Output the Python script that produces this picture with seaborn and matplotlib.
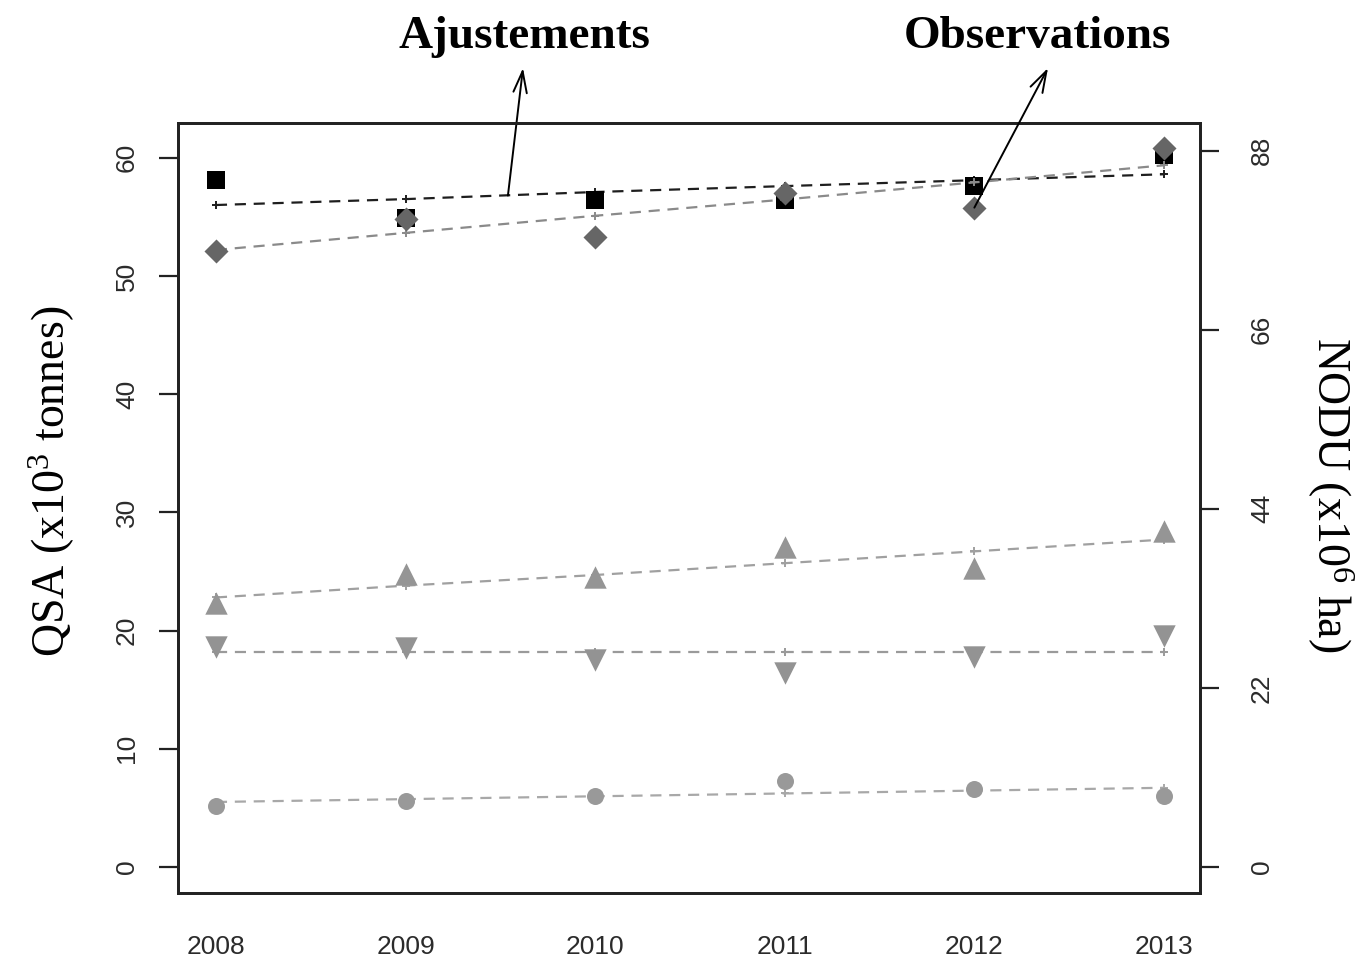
import matplotlib
matplotlib.use("Agg")
import matplotlib.pyplot as plt
import seaborn as sns
import pandas as pd

# Years of the survey
years = [2008, 2009, 2010, 2011, 2012, 2013]

# QSA series (x10^3 tonnes): observations and fitted values
qsa_total_obs = [58.1, 54.9, 56.4, 56.4, 57.6, 60.2]
qsa_total_fit = [56.0, 56.5, 57.1, 57.6, 58.1, 58.6]
qsa_up_obs = [22.3, 24.8, 24.5, 27.1, 25.3, 28.4]
qsa_up_fit = [22.8, 23.8, 24.7, 25.7, 26.7, 27.7]
qsa_down_obs = [18.6, 18.5, 17.5, 16.4, 17.8, 19.5]
qsa_down_fit = [18.2, 18.2, 18.2, 18.2, 18.2, 18.2]
qsa_small_obs = [5.2, 5.6, 6.0, 7.3, 6.6, 6.0]
qsa_small_fit = [5.5, 5.74, 5.98, 6.22, 6.46, 6.7]

# NODU series (x10^6 ha): observations and fitted values
nodu_obs = [75.7, 79.6, 77.4, 82.8, 81.0, 88.3]
nodu_fit = [75.8, 77.9, 80.0, 82.0, 84.1, 86.2]

left_ticks = [0, 10, 20, 30, 40, 50, 60]
right_ticks = [0, 22, 44, 66, 88]

sns.set_style("white")
plt.rcParams["font.family"] = ["Liberation Sans", "DejaVu Sans"]
plt.rcParams["mathtext.fontset"] = "custom"
plt.rcParams["mathtext.rm"] = "Liberation Serif"
plt.rcParams["mathtext.it"] = "Liberation Serif"

fig = plt.figure(figsize=(13.63, 9.63), dpi=100)
ax = fig.add_axes([0.1306, 0.0727, 0.7498, 0.7996])
ax2 = ax.twinx()

dash = (5, 3.5)


def fit_line(axis, values, color):
    df = pd.DataFrame({"year": years, "v": values})
    sns.lineplot(data=df, x="year", y="v", ax=axis, color=color,
                 marker="+", markersize=5.5, markeredgewidth=1.4,
                 markeredgecolor=color, linewidth=1.6, zorder=2)
    axis.lines[-1].set_dashes(dash)


def obs_points(axis, values, color, marker, size):
    df = pd.DataFrame({"year": years, "v": values})
    sns.scatterplot(data=df, x="year", y="v", ax=axis, color=color,
                    marker=marker, s=size, linewidth=0, zorder=3)


# Fitted trends
fit_line(ax, qsa_small_fit, "#a8a8a8")
fit_line(ax, qsa_down_fit, "#9a9a9a")
fit_line(ax, qsa_up_fit, "#a0a0a0")
fit_line(ax2, nodu_fit, "#8a8a8a")
fit_line(ax, qsa_total_fit, "#1e1e1e")

# Observations
obs_points(ax, qsa_small_obs, "#999999", "o", 150)
obs_points(ax, qsa_down_obs, "#939393", "v", 260)
obs_points(ax, qsa_up_obs, "#959595", "^", 260)
obs_points(ax, qsa_total_obs, "#000000", "s", 150)
obs_points(ax2, nodu_obs, "#666666", "D", 150)

ax.set_xlim(2007.8, 2013.19)
ax.set_ylim(-2.2, 62.94)
ax2.set_ylim(-3.19, 91.4)

ax.set_xticks(years)
ax.set_xticklabels([str(y) for y in years])
ax.set_yticks(left_ticks)
ax.set_yticklabels([str(t) for t in left_ticks], rotation=90, va="center")
ax2.set_yticks(right_ticks)
ax2.set_yticklabels([str(t) for t in right_ticks], rotation=90, va="center")

tick_color = "#2b2b2b"
ax.tick_params(axis="x", direction="out", length=14, width=1.6, pad=16,
               labelsize=19, colors="#222222", labelcolor=tick_color)
ax.tick_params(axis="y", direction="out", length=14, width=1.6, pad=14,
               labelsize=19, left=True, colors="#222222", labelcolor=tick_color)
ax2.tick_params(axis="y", direction="out", length=14, width=1.6, pad=22,
                labelsize=19, right=True, colors="#222222", labelcolor=tick_color)

for a in (ax, ax2):
    for sp in a.spines.values():
        sp.set_visible(True)
        sp.set_color("#222222")
        sp.set_linewidth(2.0)

ax.set_xlabel("")
ax.set_ylabel("")
ax2.set_ylabel("")

serif = ["Liberation Serif", "DejaVu Serif"]
fig.text(52 / 1363, 1 - 481 / 963, r"QSA (x10$^{3}$ tonnes)", rotation=90,
         ha="center", va="center", fontsize=33, family=serif, color="black")
fig.text(1330 / 1363, 1 - 495 / 963, r"NODU (x10$^{6}$ ha)", rotation=-90,
         ha="center", va="center", fontsize=33, family=serif, color="black")

fig.text(524 / 1363, 1 - 37 / 963, "Ajustements", ha="center", va="center",
         fontsize=34, fontweight="bold", family=serif, color="black")
fig.text(1037 / 1363, 1 - 37 / 963, "Observations", ha="center", va="center",
         fontsize=34, fontweight="bold", family=serif, color="black")

arrow = dict(arrowstyle="->,head_length=0.7,head_width=0.22", lw=1.4,
             color="black", mutation_scale=22, shrinkA=0, shrinkB=0)
ax.annotate("", xy=(523 / 1363, 1 - 68 / 963), xycoords="figure fraction",
            xytext=(2009.54, 56.8), textcoords="data", arrowprops=arrow,
            annotation_clip=False)
ax2.annotate("", xy=(1048 / 1363, 1 - 68 / 963), xycoords="figure fraction",
             xytext=(2012, 81.0), textcoords="data", arrowprops=arrow,
             annotation_clip=False)

fig.savefig("out.png", dpi=100, facecolor="white")
